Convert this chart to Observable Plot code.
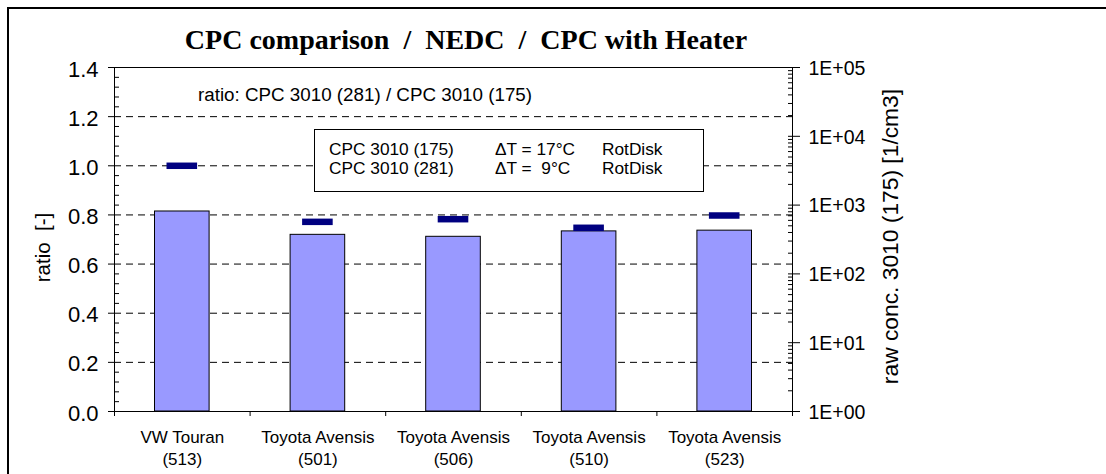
<!DOCTYPE html>
<html><head><meta charset="utf-8">
<script src="https://cdn.jsdelivr.net/npm/d3@7"></script>
<script src="https://cdn.jsdelivr.net/npm/@observablehq/plot@0.6"></script>
<style>
body{margin:0;background:#fff;}
#wrap{position:relative;width:1106px;height:474px;overflow:hidden;background:#fff;}
#wrap svg{position:absolute;left:0;top:0;}
</style></head><body><div id="wrap"></div>
<script>
// ---- data ----
const categories = ["VW Touran\n(513)", "Toyota Avensis\n(501)", "Toyota Avensis\n(506)", "Toyota Avensis\n(510)", "Toyota Avensis\n(523)"];
const ratioValues = [0.814, 0.719, 0.711, 0.733, 0.736];      // ratio CPC(281)/CPC(175)
const rawConc = [3728, 571, 624, 468, 706];                     // raw conc. 3010 (175) [1/cm3]
const ratioTicks = [0, 0.2, 0.4, 0.6, 0.8, 1.0, 1.2, 1.4];
const gridTicks = [0.2, 0.4, 0.6, 0.8, 1.0, 1.2];
const ratioMinorStep = 0.04;
const concTicks = [1, 10, 100, 1000, 10000, 100000];
const concTickLabels = ["1E+00", "1E+01", "1E+02", "1E+03", "1E+04", "1E+05"];
const titleText = "CPC comparison  /  NEDC  /  CPC with Heater";
const ratioNote = "ratio: CPC 3010 (281) / CPC 3010 (175)";
const legendRows = [["CPC 3010 (175)", "\u0394T = 17°C", "RotDisk"], ["CPC 3010 (281)", "\u0394T =  9°C", "RotDisk"]];
const yLabel = "ratio  [-]";
const y2Label = "raw conc. 3010 (175) [1/cm3]";

// ---- layout ----
const W = 1106, H = 474, ML = 114, MR = 314, MT = 67, MB = 63;
const plotW = W - ML - MR;
const ratioMax = 1.4, concMax = 100000;
const yConc = c => Math.log10(c) / Math.log10(concMax) * ratioMax;
const idx = categories.map((_, i) => i);
const leftMinor = d3.range(0, ratioMax + 1e-9, ratioMinorStep).filter(v => Math.abs(v / 0.2 - Math.round(v / 0.2)) > 1e-6);
const rightMinor = [];
for (let d = 0; d < 5; d++) for (let k = 2; k <= 9; k++) rightMinor.push(yConc(k * Math.pow(10, d)));
const concPos = concTicks.map(yConc);

const chart = Plot.plot({
  width: W, height: H,
  marginLeft: ML, marginRight: MR, marginTop: MT, marginBottom: MB,
  x: {type: "linear", domain: [0, categories.length]},
  y: {domain: [0, ratioMax]},
  style: {fontFamily: "'Liberation Sans', Arial, sans-serif", fontSize: "19px", color: "#000", background: "transparent", overflow: "visible"},
  marks: [
    Plot.ruleY(gridTicks, {stroke: "#000", strokeDasharray: "7,5"}),
    Plot.rect(idx, {x1: i => i, x2: i => i + 1, y1: 0, y2: i => ratioValues[i], fill: "#9999ff", stroke: "#000", strokeWidth: 1, insetLeft: 40.5, insetRight: 40.5}),
    Plot.ruleY(idx, {x1: i => i, x2: i => i + 1, y: i => yConc(rawConc[i]), stroke: "#000080", strokeWidth: 6.5, insetLeft: 52.5, insetRight: 52.5}),
    Plot.frame({stroke: "#000"}),
    Plot.tickY(leftMinor, {y: d => d, insetRight: plotW - 5, stroke: "#000"}),
    Plot.tickY(rightMinor, {y: d => d, insetLeft: plotW - 4, stroke: "#000"}),
    Plot.tickY(concPos, {y: d => d, insetLeft: plotW - 4, stroke: "#000"}),
    Plot.axisY(ratioTicks, {anchor: "left", tickSize: 6, tickFormat: () => "", label: null}),
    Plot.axisY(ratioTicks, {anchor: "left", tickSize: 0, tickPadding: 16, dy: 2, tickFormat: d3.format(".1f"), label: null, fontSize: 22}),
    Plot.axisY(concPos, {anchor: "right", tickSize: 7, tickFormat: () => "", label: null}),
    Plot.axisY(concPos, {anchor: "right", tickSize: 0, tickPadding: 16, dy: 1, tickFormat: d => concTickLabels[Math.round(d / ratioMax * 5)], label: null, fontSize: 19.5}),
    Plot.axisX(d3.range(0, categories.length + 1), {anchor: "bottom", tickSize: 5, tickFormat: () => "", label: null}),
    Plot.axisX(idx.map(i => i + 0.5), {anchor: "bottom", tickSize: 0, tickPadding: 17, tickFormat: d => categories[Math.floor(d)], label: null, fontSize: 17, lineHeight: 1.24}),
    Plot.text([yLabel], {frameAnchor: "left", textAnchor: "middle", dx: -71, dy: 8, rotate: -90, fontSize: 20.5}),
    Plot.text([y2Label], {frameAnchor: "right", textAnchor: "middle", dx: 98, dy: -3, rotate: -90, fontSize: 22.8})
  ]
});
const wrap = document.getElementById("wrap");
wrap.appendChild(chart);

// ---- annotations overlay ----
const ov = d3.select(wrap).append("svg").attr("width", W).attr("height", H)
  .style("font-family", "'Liberation Sans', Arial, sans-serif");
// outer chart-area border (left & top)
ov.append("path").attr("d", `M8,${H} V8 H${W}`).attr("fill", "none").attr("stroke", "#000").attr("stroke-width", 2);
ov.append("text").attr("x", 466).attr("y", 49).attr("text-anchor", "middle")
  .style("font-family", "'Liberation Serif', 'Times New Roman', serif").style("font-weight", "bold").style("font-size", "28px")
  .style("white-space", "pre").text(titleText);
ov.append("text").attr("x", 198).attr("y", 101).style("font-size", "18.8px").text(ratioNote);
ov.append("rect").attr("x", 314.5).attr("y", 129.5).attr("width", 389).attr("height", 62)
  .attr("fill", "#fff").attr("stroke", "#000");
const colX = [329, 495, 602];
legendRows.forEach((row, r) => row.forEach((t, c) => {
  ov.append("text").attr("x", colX[c]).attr("y", 155 + r * 18.5).style("font-size", "17.3px").style("white-space", "pre").text(t);
}));
</script>
</body></html>
